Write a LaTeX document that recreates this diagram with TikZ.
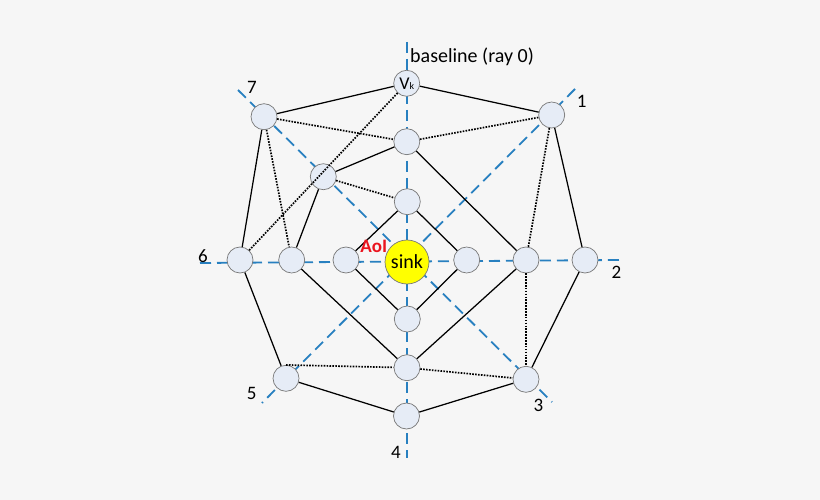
\documentclass[tikz,border=0pt]{standalone}
\usepackage{fontspec}
\setmainfont{Carlito}
\definecolor{bgcol}{RGB}{246,246,246}
\definecolor{nodefill}{RGB}{230,236,246}
\definecolor{nodegray}{RGB}{120,120,120}
\definecolor{rayblue}{RGB}{40,128,192}
\definecolor{aoired}{RGB}{235,20,30}
\definecolor{sinkyellow}{RGB}{255,255,0}
\begin{document}
\begin{tikzpicture}[x=1pt,y=-1pt,
  nd/.style={circle,draw=nodegray,fill=nodefill,line width=0.7pt,minimum size=26pt,inner sep=0pt},
  ray/.style={draw=rayblue,line width=1.8pt,dash pattern=on 11pt off 6pt},
  link/.style={draw=black,line width=1.25pt},
  dlink/.style={draw=black,line width=1.7pt,dash pattern=on 1.6pt off 1.3pt},
  lbl/.style={font=\fontsize{19}{21}\selectfont,inner sep=0pt}]
\fill[bgcol] (0,0) rectangle (820,500);
\useasboundingbox (0,0) rectangle (820,500);
% ray end points
\coordinate (r0a) at (407,42);
\coordinate (r4b) at (407,458);
\coordinate (r6a) at (200,263);
\coordinate (r2b) at (620,260);
\coordinate (r1a) at (575,89);
\coordinate (r5b) at (262,403);
\coordinate (r7a) at (238,90);
\coordinate (r3b) at (552,402);
\draw[ray] (r0a) -- (r4b);
\draw[ray] (r6a) -- (r2b);
\draw[ray] (r1a) -- (r5b);
\draw[ray] (r7a) -- (r3b);
% nodes
\node[nd,font=\fontsize{18}{19}\selectfont] (v0) at (406.7,83.3) {V{\fontsize{10}{10}\selectfont k}};
\node[nd] (n1) at (551.7,115) {};
\node[nd] (n2) at (585,260) {};
\node[nd] (n3) at (526,379.3) {};
\node[nd] (n4) at (406.5,416) {};
\node[nd] (n5) at (286,378.3) {};
\node[nd] (n6) at (240,260) {};
\node[nd] (n7) at (264,116.7) {};
\node[nd] (m0) at (406.8,141.7) {};
\node[nd] (m7) at (323.3,176.7) {};
\node[nd] (m6) at (291.7,260) {};
\node[nd] (m4) at (407,367.7) {};
\node[nd] (m2) at (526,260) {};
\node[nd] (i0) at (407.3,201.7) {};
\node[nd] (i6) at (346,260) {};
\node[nd] (i4) at (407.3,319) {};
\node[nd] (i2) at (466.7,260) {};
\node[circle,draw=nodegray,fill=sinkyellow,line width=0.7pt,minimum size=44pt,inner sep=0pt,font=\fontsize{20}{21}\selectfont] (sink) at (407,262) {sink};
% solid links
\draw[link] (v0) -- (n7);
\draw[link] (v0) -- (n1);
\draw[link] (n7) -- (n6);
\draw[link] (n1) -- (n2);
\draw[link] (n6) -- (n5);
\draw[link] (n2) -- (n3);
\draw[link] (n5) -- (n4);
\draw[link] (n3) -- (n4);
\draw[link] (m0) -- (m7);
\draw[link] (m7) -- (m6);
\draw[link] (m6) -- (m4);
\draw[link] (m4) -- (m2);
\draw[link] (m2) -- (m0);
\draw[link] (i0) -- (i6);
\draw[link] (i6) -- (i4);
\draw[link] (i4) -- (i2);
\draw[link] (i2) -- (i0);
% dotted links
\draw[dlink] (v0) -- (n6);
\draw[dlink] (n7) -- (m0);
\draw[dlink] (m0) -- (n1);
\draw[dlink] (n7) -- (m6);
\draw[dlink] (m7) -- (i0);
\draw[dlink] (n1) -- (m2);
\draw[dlink] (m2) -- (n3);
\draw[dlink] (n5.north) -- (m4);
\draw[dlink] (m4) -- (n3);
% labels
\node[lbl,anchor=west,font=\fontsize{20}{22}\selectfont] (bl) at (410,57) {baseline (ray 0)};
\node[lbl] (l1) at (581.7,101.7) {1};
\node[lbl] (l2) at (616.5,272.5) {2};
\node[lbl] (l3) at (538.5,405) {3};
\node[lbl] (l4) at (396,452.5) {4};
\node[lbl] (l5) at (251.7,393.3) {5};
\node[lbl] (l6) at (203,256) {6};
\node[lbl] (l7) at (252,87) {7};
\node[lbl,font=\fontsize{19}{21}\selectfont\bfseries,text=aoired] (aoi) at (373.7,246.5) {AoI};
\end{tikzpicture}
\end{document}
